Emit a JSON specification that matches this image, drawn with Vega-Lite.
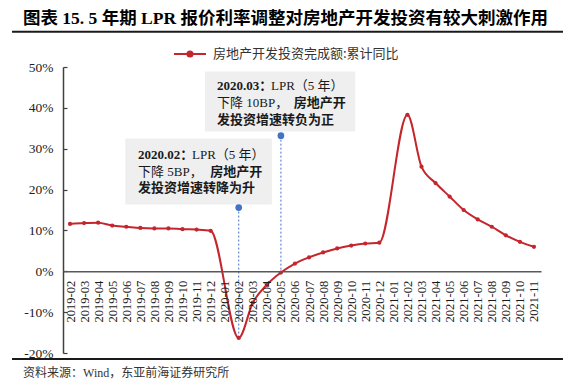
{
  "$schema": "https://vega.github.io/schema/vega-lite/v6.json",
  "width": 478,
  "height": 286,
  "autosize": {"type": "none"},
  "padding": {"left": 63, "top": 67, "right": 30, "bottom": 30},
  "background": "white",
  "config": {"view": {"stroke": null}, "font": "Liberation Serif, Noto Sans CJK SC"},
  "title": {
    "text": "图表 15. 5 年期 LPR 报价利率调整对房地产开发投资有较大刺激作用",
    "anchor": "start",
    "frame": "group",
    "dx": -40,
    "dy": 22,
    "offset": 11,
    "baseline": "alphabetic",
    "font": "Liberation Serif, Noto Sans CJK SC",
    "fontSize": 17.5,
    "fontWeight": "bold",
    "color": "#000000"
  },
  "data": {
    "values": [
      {"month": "2019-02", "value": 11.6},
      {"month": "2019-03", "value": 11.8},
      {"month": "2019-04", "value": 11.9},
      {"month": "2019-05", "value": 11.2},
      {"month": "2019-06", "value": 10.9},
      {"month": "2019-07", "value": 10.6},
      {"month": "2019-08", "value": 10.5},
      {"month": "2019-09", "value": 10.5},
      {"month": "2019-10", "value": 10.3},
      {"month": "2019-11", "value": 10.2},
      {"month": "2019-12", "value": 9.9},
      {"month": "2020-02", "value": -16.3},
      {"month": "2020-03", "value": -7.7},
      {"month": "2020-04", "value": -3.3},
      {"month": "2020-05", "value": -0.3},
      {"month": "2020-06", "value": 1.9},
      {"month": "2020-07", "value": 3.4},
      {"month": "2020-08", "value": 4.6},
      {"month": "2020-09", "value": 5.6},
      {"month": "2020-10", "value": 6.3},
      {"month": "2020-11", "value": 6.8},
      {"month": "2020-12", "value": 7.0},
      {"month": "2021-02", "value": 38.3},
      {"month": "2021-03", "value": 25.6},
      {"month": "2021-04", "value": 21.6},
      {"month": "2021-05", "value": 18.3},
      {"month": "2021-06", "value": 15.0},
      {"month": "2021-07", "value": 12.7},
      {"month": "2021-08", "value": 10.9},
      {"month": "2021-09", "value": 8.8},
      {"month": "2021-10", "value": 7.2},
      {"month": "2021-11", "value": 6.0}
    ]
  },
  "layer": [
    {
      "data": {"values": [{}]},
      "mark": {"type": "rect", "color": "#EFEFEF", "xOffset": -1, "x2Offset": 5},
      "encoding": {
        "x": {"datum": "2019-06", "type": "ordinal"},
        "x2": {"datum": "2020-04"},
        "y": {"datum": 32.5, "type": "quantitative"},
        "y2": {"datum": 16.35}
      }
    },
    {
      "data": {"values": [{}]},
      "mark": {"type": "rect", "color": "#EFEFEF", "xOffset": -5.6, "x2Offset": 4},
      "encoding": {
        "x": {"datum": "2019-12", "type": "ordinal"},
        "x2": {"datum": "2020-10"},
        "y": {"datum": 48.9, "type": "quantitative"},
        "y2": {"datum": 34.2}
      }
    },
    {
      "data": {"values": [{}]},
      "mark": {"type": "rule", "color": "#4472C4", "strokeWidth": 1, "strokeDash": [2, 2]},
      "encoding": {
        "x": {"datum": "2020-02", "type": "ordinal"},
        "y": {"datum": 15.6, "type": "quantitative"},
        "y2": {"datum": -16.3}
      }
    },
    {
      "data": {"values": [{}]},
      "mark": {"type": "rule", "color": "#4472C4", "strokeWidth": 1, "strokeDash": [2, 2]},
      "encoding": {
        "x": {"datum": "2020-05", "type": "ordinal"},
        "y": {"datum": 33.2, "type": "quantitative"},
        "y2": {"datum": -0.3}
      }
    },
    {
      "mark": {"type": "line", "interpolate": "monotone", "strokeWidth": 2},
      "encoding": {
        "x": {
          "field": "month",
          "type": "ordinal",
          "scale": {
            "type": "point",
            "padding": 0.5,
            "domain": ["2019-02","2019-03","2019-04","2019-05","2019-06","2019-07","2019-08","2019-09","2019-10","2019-11","2019-12","2020-01","2020-02","2020-03","2020-04","2020-05","2020-06","2020-07","2020-08","2020-09","2020-10","2020-11","2020-12","2021-01","2021-02","2021-03","2021-04","2021-05","2021-06","2021-07","2021-08","2021-09","2021-10","2021-11"]
          },
          "axis": {
            "title": null,
            "orient": "bottom",
            "offset": -81.7,
            "domainColor": "#595959",
            "domainWidth": 1.5,
            "ticks": false,
            "labelAngle": -90,
            "labelFont": "Liberation Serif",
            "labelFontSize": 12.5,
            "labelColor": "#1a1a1a",
            "labelPadding": 9,
            "labelOverlap": false,
            "labelBound": false
          }
        },
        "y": {
          "field": "value",
          "type": "quantitative",
          "scale": {"domain": [-20, 50], "nice": false, "zero": false},
          "axis": {
            "title": null,
            "grid": false,
            "values": [-20, -10, 0, 10, 20, 30, 40, 50],
            "labelExpr": "datum.value + '%'",
            "domainColor": "#404040",
            "domainWidth": 1.5,
            "tickColor": "#404040",
            "tickWidth": 1.2,
            "tickSize": -4,
            "labelPadding": 14,
            "labelFont": "Liberation Serif",
            "labelFontSize": 13.5,
            "labelColor": "#222222"
          }
        },
        "color": {
          "datum": "房地产开发投资完成额:累计同比",
          "type": "nominal",
          "scale": {"range": ["#C5252C"]},
          "legend": {
            "title": null,
            "orient": "none",
            "legendX": 110,
            "legendY": -30,
            "symbolType": "M-1,0H1M0.16,0A0.16,0.16,0,1,1,-0.16,0A0.16,0.16,0,1,1,0.16,0Z",
            "symbolSize": 1024,
            "symbolStrokeWidth": 2,
            "labelFont": "Noto Sans CJK SC",
            "labelFontSize": 13,
            "labelColor": "#333333",
            "labelOffset": 6,
            "labelLimit": 400,
            "encode": {"symbols": {"update": {"fill": {"value": "#C5252C"}, "stroke": {"value": "#C5252C"}}}}
          }
        }
      }
    },
    {
      "mark": {"type": "circle", "size": 18, "color": "#C5252C", "opacity": 1},
      "encoding": {
        "x": {"field": "month", "type": "ordinal"},
        "y": {"field": "value", "type": "quantitative"}
      }
    },
    {
      "data": {"values": [{}]},
      "mark": {"type": "circle", "size": 45, "color": "#4472C4", "opacity": 1},
      "encoding": {
        "x": {"datum": "2020-02", "type": "ordinal"},
        "y": {"datum": 15.6, "type": "quantitative"}
      }
    },
    {
      "data": {"values": [{}]},
      "mark": {"type": "circle", "size": 45, "color": "#4472C4", "opacity": 1},
      "encoding": {
        "x": {"datum": "2020-05", "type": "ordinal"},
        "y": {"datum": 33.2, "type": "quantitative"}
      }
    },
    {
      "data": {"values": [{}]},
      "mark": {"type": "text", "align": "left", "baseline": "middle", "dx": -2.3, "fontSize": 13, "fontWeight": "bold", "color": "#1a1a1a"},
      "encoding": {"x": {"datum": "2019-07", "type": "ordinal"}, "y": {"datum": 28.46, "type": "quantitative"}, "text": {"value": "2020.02："}}
    },
    {
      "data": {"values": [{}]},
      "mark": {"type": "text", "align": "left", "baseline": "middle", "dx": 51.7, "fontSize": 13, "color": "#1a1a1a"},
      "encoding": {"x": {"datum": "2019-07", "type": "ordinal"}, "y": {"datum": 28.46, "type": "quantitative"}, "text": {"value": "LPR（5 年）"}}
    },
    {
      "data": {"values": [{}]},
      "mark": {"type": "text", "align": "left", "baseline": "middle", "dx": -2.3, "fontSize": 13, "color": "#1a1a1a"},
      "encoding": {"x": {"datum": "2019-07", "type": "ordinal"}, "y": {"datum": 24.42, "type": "quantitative"}, "text": {"value": "下降 5BP，"}}
    },
    {
      "data": {"values": [{}]},
      "mark": {"type": "text", "align": "left", "baseline": "middle", "dx": 70, "fontSize": 13, "fontWeight": "bold", "color": "#1a1a1a"},
      "encoding": {"x": {"datum": "2019-07", "type": "ordinal"}, "y": {"datum": 24.42, "type": "quantitative"}, "text": {"value": "房地产开"}}
    },
    {
      "data": {"values": [{}]},
      "mark": {"type": "text", "align": "left", "baseline": "middle", "dx": -2.3, "fontSize": 13, "fontWeight": "bold", "color": "#1a1a1a"},
      "encoding": {"x": {"datum": "2019-07", "type": "ordinal"}, "y": {"datum": 20.39, "type": "quantitative"}, "text": {"value": "发投资增速转降为升"}}
    },
    {
      "data": {"values": [{}]},
      "mark": {"type": "text", "align": "left", "baseline": "middle", "dx": -7.7, "fontSize": 13, "fontWeight": "bold", "color": "#1a1a1a"},
      "encoding": {"x": {"datum": "2020-01", "type": "ordinal"}, "y": {"datum": 45.23, "type": "quantitative"}, "text": {"value": "2020.03："}}
    },
    {
      "data": {"values": [{}]},
      "mark": {"type": "text", "align": "left", "baseline": "middle", "dx": 46.3, "fontSize": 13, "color": "#1a1a1a"},
      "encoding": {"x": {"datum": "2020-01", "type": "ordinal"}, "y": {"datum": 45.23, "type": "quantitative"}, "text": {"value": "LPR（5 年）"}}
    },
    {
      "data": {"values": [{}]},
      "mark": {"type": "text", "align": "left", "baseline": "middle", "dx": -7.7, "fontSize": 13, "color": "#1a1a1a"},
      "encoding": {"x": {"datum": "2020-01", "type": "ordinal"}, "y": {"datum": 41.07, "type": "quantitative"}, "text": {"value": "下降 10BP，"}}
    },
    {
      "data": {"values": [{}]},
      "mark": {"type": "text", "align": "left", "baseline": "middle", "dx": 69, "fontSize": 13, "fontWeight": "bold", "color": "#1a1a1a"},
      "encoding": {"x": {"datum": "2020-01", "type": "ordinal"}, "y": {"datum": 41.07, "type": "quantitative"}, "text": {"value": "房地产开"}}
    },
    {
      "data": {"values": [{}]},
      "mark": {"type": "text", "align": "left", "baseline": "middle", "dx": -7.7, "fontSize": 13, "fontWeight": "bold", "color": "#1a1a1a"},
      "encoding": {"x": {"datum": "2020-01", "type": "ordinal"}, "y": {"datum": 36.91, "type": "quantitative"}, "text": {"value": "发投资增速转负为正"}}
    },
    {
      "data": {"values": [{}]},
      "mark": {"type": "rule", "color": "#1a1a1a", "strokeWidth": 2, "xOffset": -58, "x2Offset": 29},
      "encoding": {
        "x": {"datum": "2019-02", "type": "ordinal"},
        "x2": {"datum": "2021-11"},
        "y": {"datum": 58.6, "type": "quantitative"}
      }
    },
    {
      "data": {"values": [{}]},
      "mark": {"type": "rule", "color": "#1a1a1a", "strokeWidth": 2, "xOffset": -58, "x2Offset": 29},
      "encoding": {
        "x": {"datum": "2019-02", "type": "ordinal"},
        "x2": {"datum": "2021-11"},
        "y": {"datum": -21.47, "type": "quantitative"}
      }
    },
    {
      "data": {"values": [{}]},
      "mark": {"type": "text", "align": "left", "baseline": "middle", "dx": -47, "fontSize": 12, "color": "#333333"},
      "encoding": {"x": {"datum": "2019-02", "type": "ordinal"}, "y": {"datum": -24.9, "type": "quantitative"}, "text": {"value": "资料来源：Wind，东亚前海证券研究所"}}
    }
  ]
}
